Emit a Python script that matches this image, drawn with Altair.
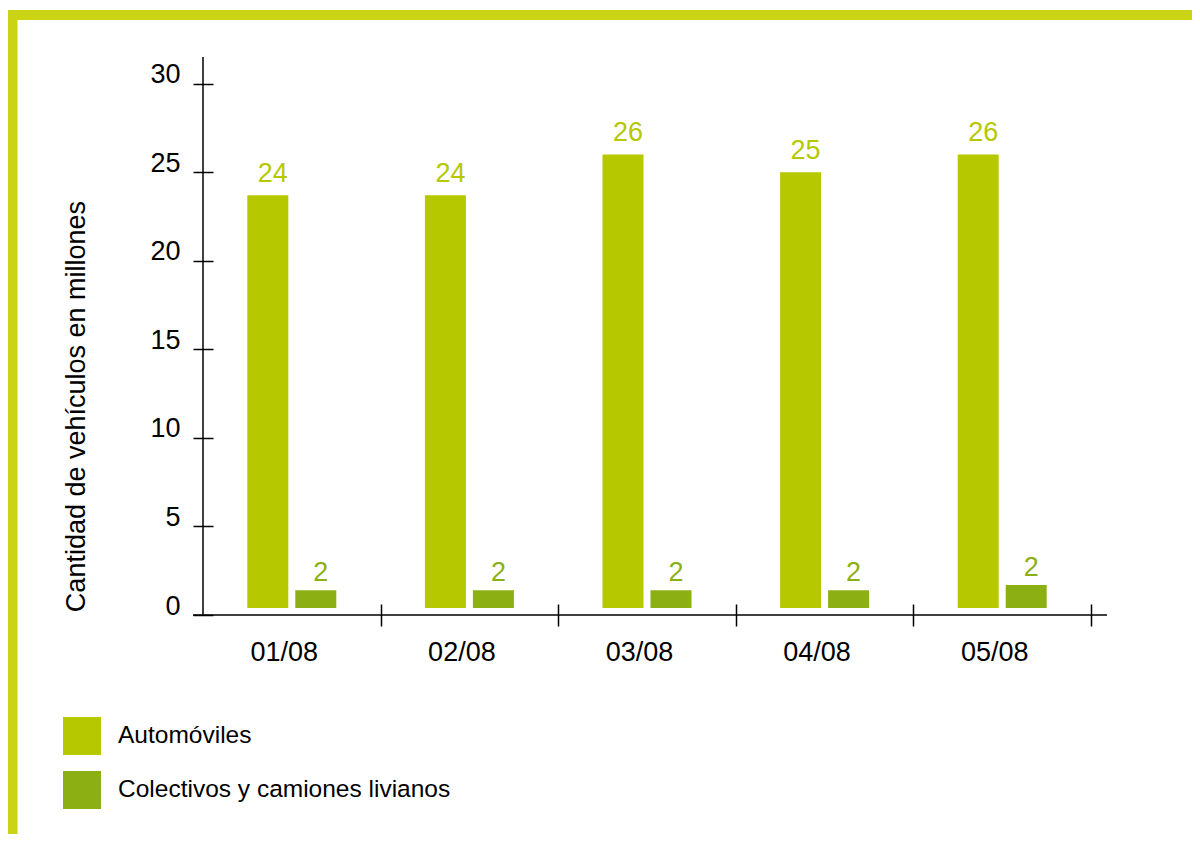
import altair as alt
import pandas as pd

# ---- data ----
dates = ["01/08", "02/08", "03/08", "04/08", "05/08"]
series = ["Automóviles", "Colectivos y camiones livianos"]
autos = [23.7, 23.7, 26.0, 25.0, 26.0]
colectivos = [1.4, 1.4, 1.4, 1.4, 1.7]
autos_labels = ["24", "24", "26", "25", "26"]
colectivos_labels = ["2", "2", "2", "2", "2"]
y_ticks = [0, 5, 10, 15, 20, 25, 30]
colors = ["#b5c800", "#8cb014"]
BASE = 0.4

rows = []
for i, d in enumerate(dates):
    rows.append(dict(fecha=d, serie=series[0], valor=autos[i], base=BASE, etiqueta=autos_labels[i]))
    rows.append(dict(fecha=d, serie=series[1], valor=colectivos[i], base=BASE, etiqueta=colectivos_labels[i]))
df = pd.DataFrame(rows)

W, H = 888, 558
PAD_L, PAD_T = 195, 49
CANVAS_W, CANVAS_H = 1184, 826
FONT = "Liberation Sans"
FRAME = "#cbd414"
BAND = W / len(dates)

x_enc = alt.X(
    "fecha:N", sort=dates,
    scale=alt.Scale(paddingInner=0, paddingOuter=0),
    axis=alt.Axis(title=None, domain=False, grid=False, offset=-11, tickSize=22,
                  tickColor="black", tickWidth=1.5, tickOffset=BAND / 2,
                  labelOffset=-BAND / 2 - 8, labelPadding=13, labelFontSize=27,
                  labelFont=FONT, labelColor="black", labelAngle=0),
)
xo_enc = alt.XOffset("serie:N", sort=series,
                     scale=alt.Scale(paddingInner=0.1458, paddingOuter=0.923))
y_enc = alt.Y(
    "valor:Q",
    scale=alt.Scale(domain=[0, 31.5], nice=False, zero=True),
    axis=alt.Axis(title="Cantidad de vehículos en millones", values=y_ticks,
                  domain=False, grid=False, offset=-10, tickSize=20, tickWidth=1.5,
                  tickColor="black", labelPadding=13, labelOffset=-9,
                  labelFontSize=27, labelFont=FONT, labelColor="black",
                  titleFontSize=27, titleFont=FONT, titleFontWeight="normal",
                  titleColor="black", titleX=-137, titleY=349, titleAngle=-90,
                  titleAlign="center", titleBaseline="middle"),
)
color_scale = alt.Scale(domain=series, range=colors)
color_enc = alt.Color(
    "serie:N", sort=series, scale=color_scale,
    legend=alt.Legend(title=None, orient="none", legendX=-140, legendY=660,
                      symbolType="square", symbolSize=1444, symbolStrokeWidth=0,
                      labelFontSize=24.5, labelFont=FONT, labelColor="black",
                      labelOffset=17, rowPadding=16, padding=0, labelLimit=800),
)

base = alt.Chart(df)
bars = base.mark_bar().encode(x=x_enc, xOffset=xo_enc, y=y_enc, y2="base:Q", color=color_enc)


def value_labels(serie, dy):
    return base.transform_filter(alt.datum.serie == serie).mark_text(
        dy=dy, dx=5, baseline="bottom", fontSize=27, font=FONT
    ).encode(
        x=x_enc, xOffset=xo_enc, y=y_enc, text="etiqueta:N",
        color=alt.Color("serie:N", sort=series, scale=color_scale, legend=None),
    )


labels_a = value_labels(series[0], -7)
labels_c = value_labels(series[1], -3)

one = alt.Chart(pd.DataFrame({"k": [0]}))
y_line = one.mark_rule(color="black", strokeWidth=1.5).encode(
    x=alt.value(0), y=alt.value(0), y2=alt.value(H))
x_line = one.mark_rule(color="black", strokeWidth=1.5).encode(
    y=alt.value(H), x=alt.value(-10), x2=alt.value(W + 16))
frame_top = one.mark_rule(color=FRAME, strokeWidth=10).encode(
    y=alt.value(-42), x=alt.value(-PAD_L), x2=alt.value(CANVAS_W - PAD_L))
frame_left = one.mark_rule(color=FRAME, strokeWidth=10).encode(
    x=alt.value(-190.5), y=alt.value(-47), y2=alt.value(CANVAS_H - PAD_T))

chart = alt.layer(bars, labels_a, labels_c, y_line, x_line, frame_top, frame_left).properties(
    width=W, height=H,
    autosize=alt.AutoSizeParams(type="none"),
    padding={"left": PAD_L, "top": PAD_T, "right": CANVAS_W - PAD_L - W, "bottom": CANVAS_H - PAD_T - H},
    background="white",
).configure_view(stroke=None)

chart.save("out.html", embed_options={"renderer": "svg", "actions": False})
